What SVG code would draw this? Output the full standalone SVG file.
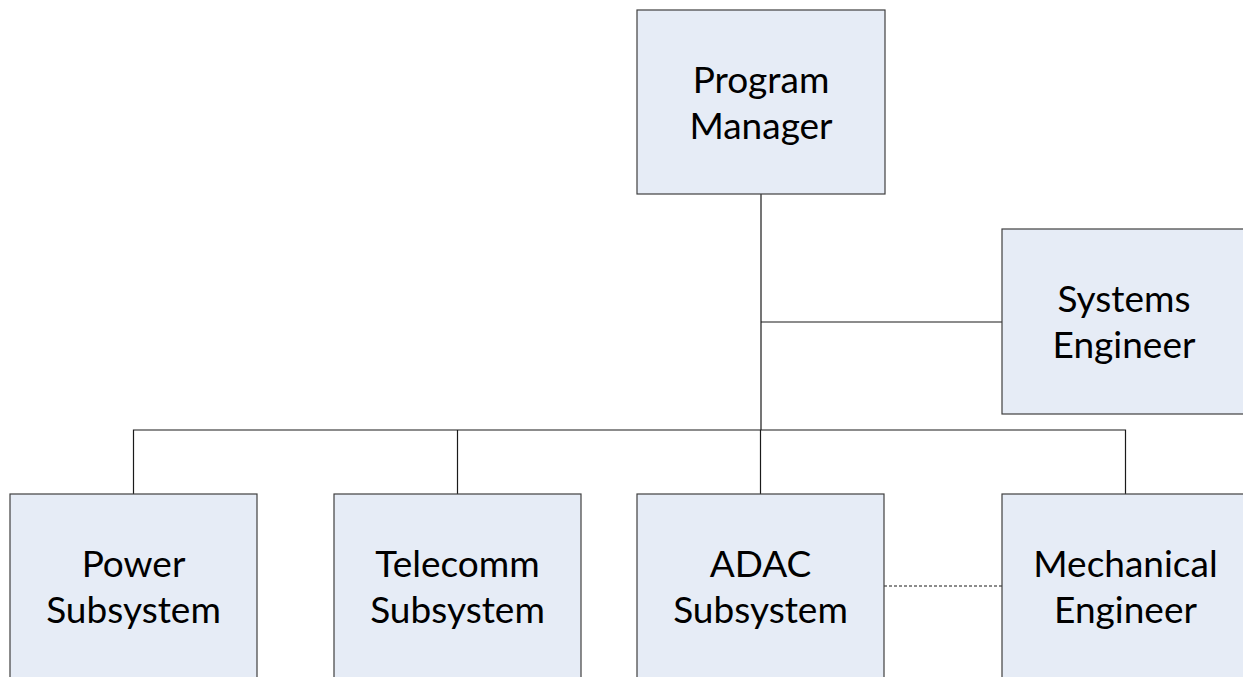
<svg xmlns="http://www.w3.org/2000/svg" width="1243" height="677" viewBox="0 0 1243 677">
  <style>
    .box { fill: #e6ecf6; stroke: #404040; stroke-width: 1.2; }
    .lbl { font-family: Lato, "Open Sans", "Liberation Sans", sans-serif; font-size: 37px; fill: #000; text-anchor: middle; }
    .wire { fill: none; stroke: #1a1a1a; stroke-width: 1.2; }
    .dash { fill: none; stroke: #1a1a1a; stroke-width: 1.1; stroke-dasharray: 3 2; }
  </style>
  <rect width="1243" height="677" fill="#ffffff"/>

  <g id="connectors">
    <!-- trunk from Program Manager down to the team bus -->
    <line class="wire" x1="761" y1="194" x2="761" y2="430"/>
    <!-- staff link to Systems Engineer -->
    <line class="wire" x1="761" y1="322" x2="1002" y2="322"/>
    <!-- team bus and drops -->
    <polyline class="wire" points="133.5,494 133.5,430 1125.5,430 1125.5,494"/>
    <line class="wire" x1="457.5" y1="430" x2="457.5" y2="494"/>
    <line class="wire" x1="760.5" y1="430" x2="760.5" y2="494"/>
    <!-- informal coordination link -->
    <line class="dash" x1="884" y1="586" x2="1002" y2="586"/>
  </g>

  <g id="program-manager">
    <rect class="box" x="637" y="10" width="248" height="184"/>
    <text class="lbl" x="761" y="93">Program</text>
    <text class="lbl" x="761" y="139">Manager</text>
  </g>

  <g id="systems-engineer">
    <rect class="box" x="1002" y="229" width="245" height="185"/>
    <text class="lbl" x="1124" y="312">Systems</text>
    <text class="lbl" x="1124" y="358">Engineer</text>
  </g>

  <g id="power-subsystem">
    <rect class="box" x="10" y="494" width="247" height="190"/>
    <text class="lbl" x="133.5" y="577">Power</text>
    <text class="lbl" x="133.5" y="623">Subsystem</text>
  </g>

  <g id="telecomm-subsystem">
    <rect class="box" x="334" y="494" width="247" height="190"/>
    <text class="lbl" x="457.5" y="577">Telecomm</text>
    <text class="lbl" x="457.5" y="623">Subsystem</text>
  </g>

  <g id="adac-subsystem">
    <rect class="box" x="637" y="494" width="247" height="190"/>
    <text class="lbl" x="760.5" y="577">ADAC</text>
    <text class="lbl" x="760.5" y="623">Subsystem</text>
  </g>

  <g id="mechanical-engineer">
    <rect class="box" x="1002" y="494" width="247" height="190"/>
    <text class="lbl" x="1125.5" y="577">Mechanical</text>
    <text class="lbl" x="1125.5" y="623">Engineer</text>
  </g>
</svg>
